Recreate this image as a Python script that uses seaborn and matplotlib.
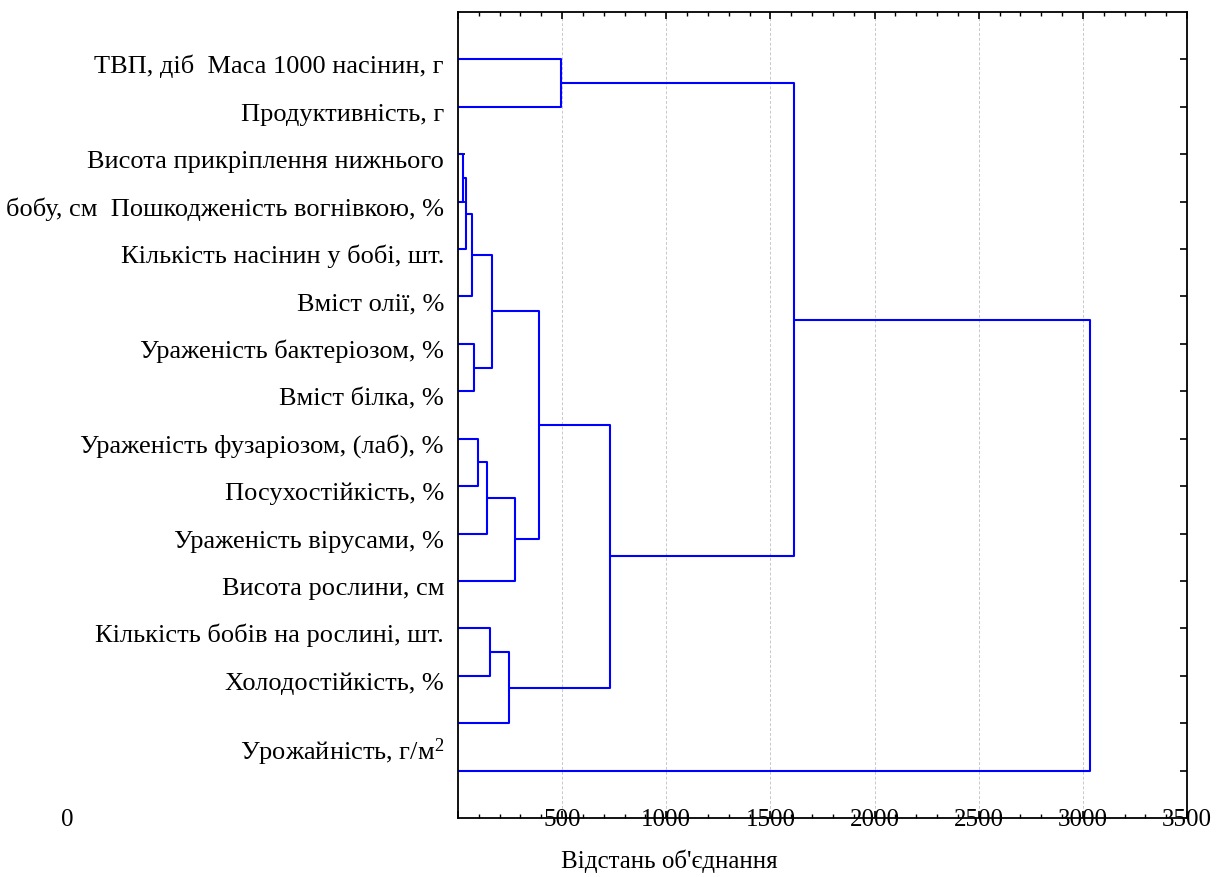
import numpy as np
import pandas as pd
import matplotlib
matplotlib.use("Agg")
import matplotlib.pyplot as plt
import matplotlib.transforms as mtransforms
from matplotlib.ticker import MultipleLocator
import seaborn as sns

# ---------------- data ----------------
leaf_labels = [
    "ТВП, діб  Маса 1000 насінин, г",
    "Продуктивність, г",
    "Висота прикріплення нижнього",
    "бобу, см  Пошкодженість вогнівкою, %",
    "Кількість насінин у бобі, шт.",
    "Вміст олії, %",
    "Ураженість бактеріозом, %",
    "Вміст білка, %",
    "Ураженість фузаріозом, (лаб), %",
    "Посухостійкість, %",
    "Ураженість вірусами, %",
    "Висота рослини, см",
    "Кількість бобів на рослині, шт.",
    "Холодостійкість, %",
    "",
]
last_label = "Урожайність, г/м$^{2}$"
n_leaves = 16

# merges: cluster ids 0..15 are leaves (top to bottom), new clusters 16, 17, ...
merge_a = [0, 2, 17, 18, 6, 19, 8, 22, 23, 21, 12, 26, 25, 16, 29]
merge_b = [1, 3, 4, 5, 7, 20, 9, 10, 11, 24, 13, 14, 27, 28, 15]
merge_dist = [495, 23, 40, 67, 79, 163, 94, 137, 276, 389, 156, 247, 730, 1613, 3035]

x_ticks = [0, 500, 1000, 1500, 2000, 2500, 3000, 3500]
x_tick_labels = ["", "500", "1000", "1500", "2000", "2500", "3000", "3500"]

# ---------------- build segments ----------------
pos = {i: (0.0, float(i + 1)) for i in range(n_leaves)}
rows = []
for k, (a, b, d) in enumerate(zip(merge_a, merge_b, merge_dist)):
    xa, ya = pos[a]
    xb, yb = pos[b]
    pts = [(xa, ya), (d, ya), (d, yb), (xb, yb)]
    for j, (px, py) in enumerate(pts):
        rows.append({"seg": k, "order": j, "x": px, "y": py})
    pos[n_leaves + k] = (float(d), (ya + yb) / 2.0)
df = pd.DataFrame(rows)

# ---------------- style ----------------
sns.set_theme(style="ticks")
plt.rcParams["font.family"] = ["Liberation Serif", "DejaVu Serif"]
plt.rcParams["mathtext.fontset"] = "custom"
plt.rcParams["mathtext.rm"] = "Liberation Serif"
plt.rcParams["mathtext.it"] = "Liberation Serif"
plt.rcParams["text.color"] = "black"

W, H, DPI = 1227, 878, 100
fig = plt.figure(figsize=(W / DPI, H / DPI), dpi=DPI)
ax_l, ax_r, ax_t, ax_b = 458, 1187, 13, 819
ax = fig.add_axes([ax_l / W, 1 - ax_b / H, (ax_r - ax_l) / W, (ax_b - ax_t) / H])

sns.lineplot(data=df, x="x", y="y", units="seg", estimator=None, sort=False,
             color="#0000ff", lw=1.5, ax=ax, legend=False)

ax.set_xlim(0, 3500)
ax.set_ylim(n_leaves + 1, 0)
ax.set_xlabel("")
ax.set_ylabel("")

# grid
for xv in x_ticks[1:-1]:
    ax.axvline(xv, color="#c8c8c8", lw=0.7, ls=(0, (3, 2)), zorder=0)

# ticks
ax.set_xticks(x_ticks)
ax.set_xticklabels(x_tick_labels, fontsize=18)
ax.xaxis.set_minor_locator(MultipleLocator(100))
ax.tick_params(axis="x", which="both", direction="in", top=True, bottom=True,
               pad=-7, colors="black", labelcolor="black")
ax.tick_params(axis="x", which="major", length=5, width=1.2)
ax.tick_params(axis="x", which="minor", length=3, width=1.0)
ax.set_yticks(np.arange(1, n_leaves + 1))
ax.set_yticklabels([])
ax.tick_params(axis="y", which="both", direction="in", left=True, right=True,
               length=5, width=1.2, colors="black")
for sp in ax.spines.values():
    sp.set_color("black")
    sp.set_linewidth(1.3)
    sp.set_visible(True)
for lab in ax.get_xticklabels():
    lab.set_zorder(5)

# leaf labels
base = ax.get_yaxis_transform()
tr_lab = mtransforms.offset_copy(base, fig=fig, x=-14, y=-13, units="dots")
for i, lab in enumerate(leaf_labels):
    ax.text(0, i + 1, lab, transform=tr_lab, ha="right", va="baseline",
            fontsize=19, color="black", clip_on=False)
tr_last = mtransforms.offset_copy(base, fig=fig, x=-14, y=12, units="dots")
ax.text(0, n_leaves, last_label, transform=tr_last, ha="right", va="baseline",
        fontsize=19, color="black", clip_on=False)

# stray zero and axis title
fig.text(67 / W, 1 - 820 / H, "0", ha="center", va="center", fontsize=18,
         color="black")
fig.text(669 / W, 1 - 861 / H, "Відстань об'єднання", ha="center", va="center",
         fontsize=18, color="black")

fig.savefig("out.png", dpi=DPI, facecolor="white")
